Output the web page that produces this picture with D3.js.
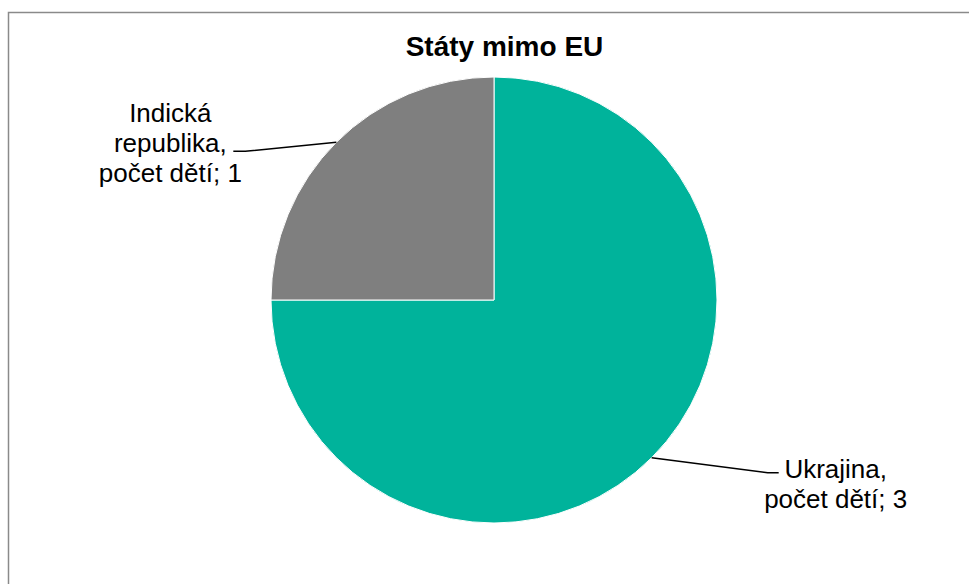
<!DOCTYPE html>
<html>
<head>
<meta charset="utf-8">
<script src="https://cdn.jsdelivr.net/npm/d3@7"></script>
<style>
  body { margin: 0; background: #fff; }
  text { font-family: "Liberation Sans", Arial, sans-serif; fill: #000; }
</style>
</head>
<body>
<div id="chart"></div>
<script>
// svg size
var width = 969, height = 584;

// data
var categories = ["Ukrajina", "Indická republika"];
var values = [3, 1];
var labelLines = [
    ["Ukrajina,", "počet dětí; 3"],
    ["Indická", "republika,", "počet dětí; 1"]
];
var title = "Státy mimo EU";

// pie geometry
var cx = 494, cy = 300, r = 223;
var color = d3.scaleOrdinal().domain(categories).range(["#00b39b", "#7f7f7f"]);

var svg = d3.select("#chart")
            .append("svg")
            .attr("width", width)
            .attr("height", height);

// frame
svg.append("rect")
    .attr("x", 8.5)
    .attr("y", 12.5)
    .attr("width", 1200)
    .attr("height", 1200)
    .attr("fill", "none")
    .attr("stroke", "#8a8a8a")
    .attr("stroke-width", 1.5);

// title
svg.append("text")
    .attr("x", 504.5)
    .attr("y", 56)
    .attr("text-anchor", "middle")
    .style("font-size", "28px")
    .style("font-weight", "bold")
    .text(title);

var pie = d3.pie()
            .sort(null)
            .value(function(d){ return d; });

var arc = d3.arc()
            .innerRadius(0)
            .outerRadius(r);

var edge = d3.arc()
            .innerRadius(r)
            .outerRadius(r);

var g = svg.append("g")
            .attr("transform", "translate(" + cx + "," + cy + ")");

var slices = pie(values);

g.selectAll("path.slice")
    .data(slices)
    .enter()
        .append("path")
        .attr("class", "slice")
        .attr("d", arc)
        .attr("fill", function(d, i){ return color(categories[i]); })
        .attr("stroke", "#fff")
        .attr("stroke-width", 1);

// label placement (offsets from the slice edge midpoint)
var labelPos = [
    { elbow: [116, 15], end: [127, 15], tx: 184, ty: 20 },
    { elbow: [-91, 9], end: [-103, 9], tx: -166, ty: -20 }
];

// leader lines
g.selectAll("path.leader")
    .data(slices)
    .enter()
        .append("path")
        .attr("class", "leader")
        .attr("d", function(d, i){
            var p = edge.centroid(d), o = labelPos[i];
            return "M" + p[0] + "," + p[1] +
                   "L" + (p[0] + o.elbow[0]) + "," + (p[1] + o.elbow[1]) +
                   "L" + (p[0] + o.end[0]) + "," + (p[1] + o.end[1]);
        })
        .attr("fill", "none")
        .attr("stroke", "#000")
        .attr("stroke-width", 1.5);

// labels
var lineH = 30;
g.selectAll("text.label")
    .data(slices)
    .enter()
        .append("text")
        .attr("class", "label")
        .attr("text-anchor", "middle")
        .style("font-size", "26px")
        .each(function(d, i){
            var p = edge.centroid(d), o = labelPos[i];
            var t = d3.select(this);
            labelLines[i].forEach(function(s, k){
                t.append("tspan")
                    .attr("x", p[0] + o.tx)
                    .attr("y", p[1] + o.ty + k * lineH)
                    .text(s);
            });
        });
</script>
</body>
</html>
